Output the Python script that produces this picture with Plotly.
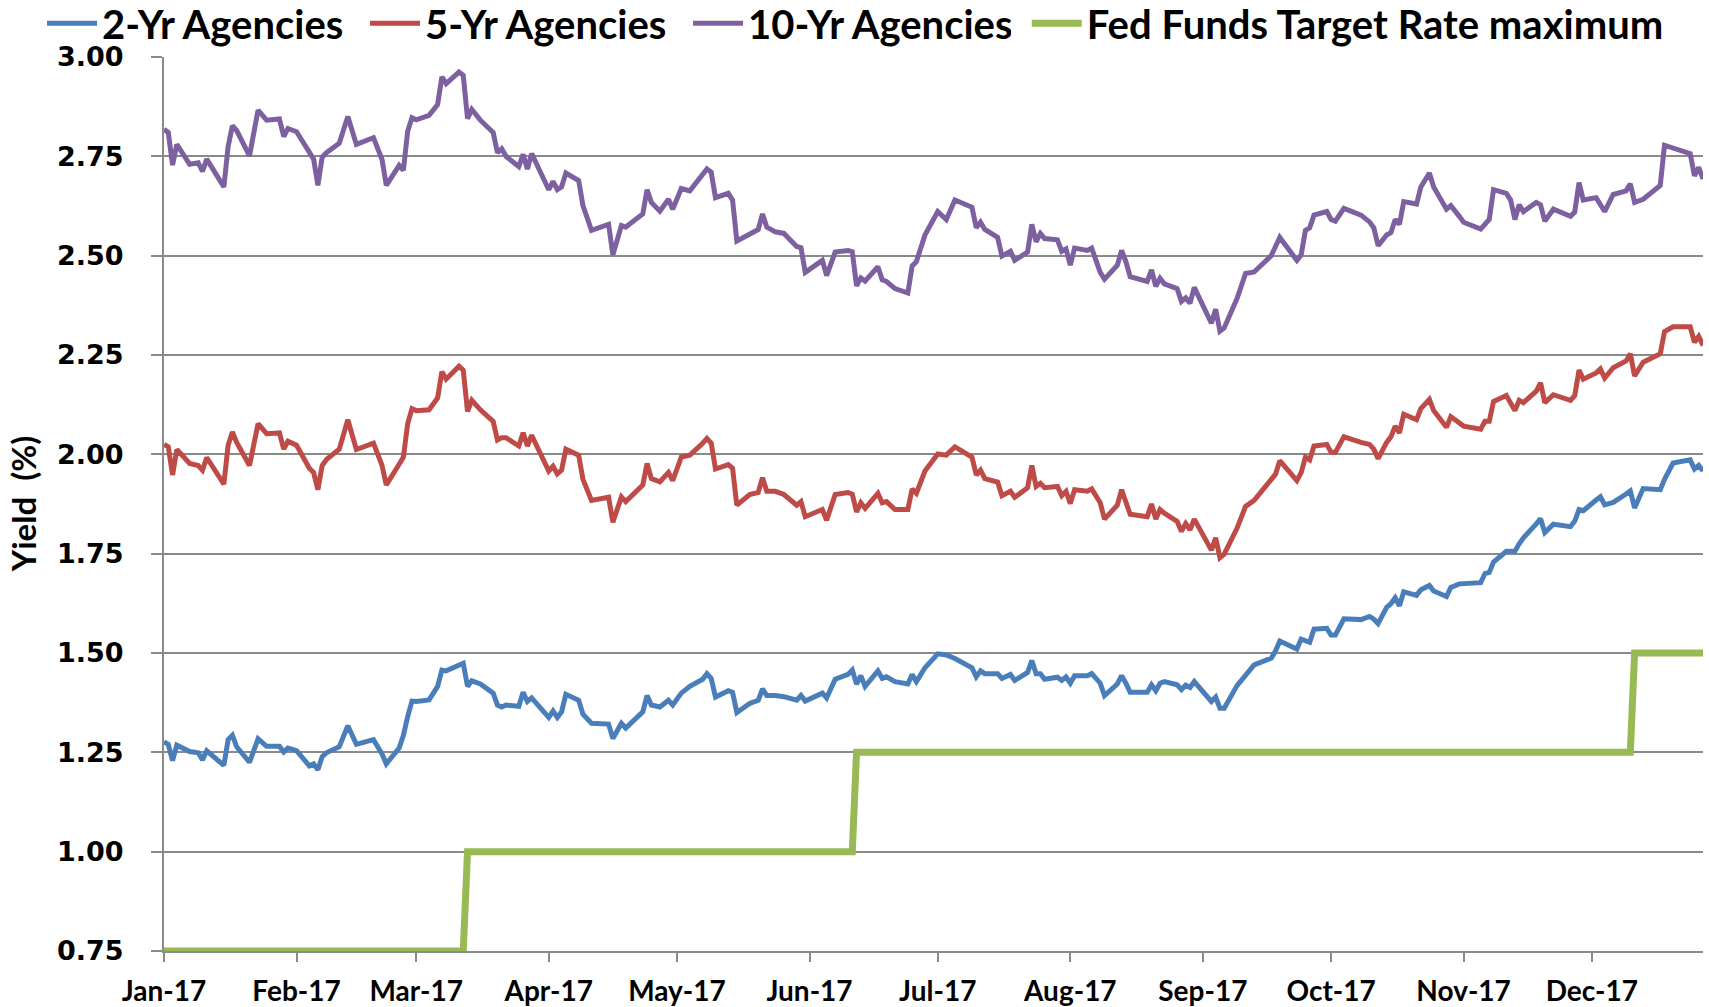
import plotly.graph_objects as go

dates = [
    "2017-01-03","2017-01-04","2017-01-05","2017-01-06","2017-01-09","2017-01-11","2017-01-12","2017-01-13",
    "2017-01-17","2017-01-18","2017-01-19","2017-01-20","2017-01-23","2017-01-25","2017-01-27","2017-01-30",
    "2017-01-31","2017-02-01","2017-02-03","2017-02-06","2017-02-07","2017-02-08","2017-02-09","2017-02-10",
    "2017-02-13","2017-02-15","2017-02-17","2017-02-21","2017-02-23","2017-02-24","2017-02-27","2017-02-28",
    "2017-03-01","2017-03-02","2017-03-03","2017-03-06","2017-03-08","2017-03-09","2017-03-10","2017-03-13",
    "2017-03-14","2017-03-15","2017-03-16","2017-03-18","2017-03-21","2017-03-22","2017-03-23","2017-03-24",
    "2017-03-27","2017-03-28","2017-03-29","2017-03-30","2017-04-03","2017-04-04","2017-04-05","2017-04-06",
    "2017-04-07","2017-04-10","2017-04-11","2017-04-13","2017-04-17","2017-04-18","2017-04-20","2017-04-21",
    "2017-04-25","2017-04-26","2017-04-27","2017-04-29","2017-05-01","2017-05-02","2017-05-04","2017-05-06",
    "2017-05-09","2017-05-10","2017-05-11","2017-05-12","2017-05-15","2017-05-16","2017-05-17","2017-05-20",
    "2017-05-22","2017-05-23","2017-05-24","2017-05-26","2017-05-28","2017-05-31","2017-06-01","2017-06-02",
    "2017-06-06","2017-06-07","2017-06-08","2017-06-09","2017-06-12","2017-06-13","2017-06-14","2017-06-15",
    "2017-06-16","2017-06-19","2017-06-20","2017-06-21","2017-06-23","2017-06-26","2017-06-27","2017-06-28",
    "2017-06-30","2017-07-03","2017-07-05","2017-07-07","2017-07-11","2017-07-12","2017-07-13","2017-07-14",
    "2017-07-17","2017-07-18","2017-07-20","2017-07-21","2017-07-24","2017-07-25","2017-07-26","2017-07-27",
    "2017-07-28","2017-07-31","2017-08-01","2017-08-02","2017-08-03","2017-08-04","2017-08-07","2017-08-08",
    "2017-08-10","2017-08-11","2017-08-14","2017-08-15","2017-08-16","2017-08-17","2017-08-21","2017-08-22",
    "2017-08-23","2017-08-24","2017-08-25","2017-08-28","2017-08-29","2017-08-30","2017-08-31","2017-09-01",
    "2017-09-05","2017-09-06","2017-09-07","2017-09-08","2017-09-11","2017-09-13","2017-09-15","2017-09-19",
    "2017-09-20","2017-09-21","2017-09-25","2017-09-26","2017-09-27","2017-09-28","2017-09-29","2017-10-02",
    "2017-10-03","2017-10-04","2017-10-06","2017-10-10","2017-10-12","2017-10-13","2017-10-14","2017-10-16",
    "2017-10-17","2017-10-18","2017-10-19","2017-10-20","2017-10-23","2017-10-24","2017-10-26","2017-10-27",
    "2017-10-30","2017-10-31","2017-11-02","2017-11-03","2017-11-07","2017-11-08","2017-11-09","2017-11-10",
    "2017-11-13","2017-11-14","2017-11-15","2017-11-16","2017-11-17","2017-11-20","2017-11-21","2017-11-22",
    "2017-11-24","2017-11-28","2017-11-29","2017-11-30","2017-12-01","2017-12-04","2017-12-05","2017-12-06",
    "2017-12-08","2017-12-11","2017-12-12","2017-12-13","2017-12-15","2017-12-19","2017-12-20","2017-12-22",
    "2017-12-26","2017-12-27","2017-12-28","2017-12-29",
]

yr10 = [
    2.818,2.81,2.728,2.78,2.73,2.734,2.712,2.743,
    2.673,2.775,2.827,2.815,2.751,2.866,2.841,2.844,
    2.80,2.82,2.812,2.763,2.743,2.677,2.748,2.759,
    2.783,2.85,2.78,2.797,2.742,2.677,2.727,2.715,
    2.813,2.847,2.842,2.853,2.88,2.95,2.933,2.962,
    2.954,2.845,2.868,2.841,2.81,2.759,2.769,2.75,
    2.724,2.755,2.718,2.757,2.666,2.687,2.666,2.673,
    2.708,2.689,2.626,2.564,2.579,2.502,2.576,2.572,
    2.605,2.666,2.634,2.612,2.642,2.617,2.669,2.663,
    2.701,2.718,2.71,2.646,2.657,2.64,2.537,2.556,
    2.566,2.605,2.572,2.56,2.556,2.523,2.52,2.458,
    2.488,2.45,2.482,2.509,2.513,2.51,2.424,2.444,
    2.436,2.472,2.439,2.435,2.417,2.406,2.474,2.485,
    2.552,2.611,2.591,2.64,2.622,2.57,2.584,2.566,
    2.546,2.499,2.511,2.488,2.509,2.579,2.535,2.556,
    2.543,2.54,2.511,2.517,2.476,2.519,2.513,2.519,
    2.458,2.441,2.476,2.513,2.485,2.447,2.435,2.464,
    2.423,2.443,2.429,2.417,2.385,2.394,2.38,2.42,
    2.33,2.365,2.31,2.318,2.392,2.455,2.459,2.50,
    2.523,2.546,2.488,2.502,2.564,2.57,2.602,2.611,
    2.591,2.587,2.619,2.602,2.585,2.57,2.525,2.552,
    2.558,2.591,2.579,2.636,2.63,2.673,2.708,2.673,
    2.617,2.626,2.599,2.584,2.567,2.579,2.591,2.666,
    2.657,2.64,2.591,2.628,2.611,2.634,2.628,2.587,
    2.617,2.599,2.61,2.684,2.64,2.646,2.63,2.611,
    2.654,2.663,2.681,2.634,2.642,2.677,2.778,2.77,
    2.757,2.701,2.722,2.693,
]

yr5 = [
    2.025,2.019,1.948,2.012,1.977,1.972,1.96,1.992,
    1.925,2.023,2.056,2.03,1.972,2.077,2.052,2.054,
    2.013,2.033,2.023,1.965,1.954,1.911,1.972,1.987,
    2.013,2.087,2.012,2.028,1.972,1.923,1.975,1.993,
    2.077,2.115,2.11,2.112,2.142,2.208,2.189,2.222,
    2.212,2.108,2.136,2.112,2.083,2.036,2.042,2.042,
    2.021,2.054,2.021,2.048,1.958,1.97,1.951,1.96,
    2.013,1.998,1.937,1.884,1.892,1.829,1.893,1.881,
    1.923,1.977,1.939,1.931,1.954,1.934,1.993,1.998,
    2.028,2.04,2.028,1.963,1.974,1.965,1.872,1.899,
    1.904,1.941,1.907,1.907,1.899,1.872,1.881,1.843,
    1.861,1.834,1.867,1.899,1.904,1.90,1.855,1.878,
    1.864,1.902,1.878,1.881,1.861,1.861,1.913,1.902,
    1.958,2.001,1.998,2.019,1.993,1.948,1.96,1.939,
    1.93,1.896,1.907,1.892,1.916,1.972,1.919,1.927,
    1.916,1.919,1.896,1.907,1.876,1.911,1.907,1.913,
    1.878,1.837,1.872,1.911,1.88,1.849,1.843,1.875,
    1.837,1.861,1.852,1.831,1.806,1.826,1.81,1.837,
    1.759,1.79,1.74,1.749,1.814,1.869,1.884,1.933,
    1.95,1.984,1.934,1.954,1.993,1.986,2.021,2.025,
    2.005,2.005,2.044,2.03,2.025,2.013,1.989,2.03,
    2.044,2.071,2.054,2.101,2.087,2.115,2.138,2.11,
    2.068,2.095,2.08,2.071,2.063,2.083,2.083,2.133,
    2.148,2.13,2.11,2.136,2.13,2.159,2.18,2.13,
    2.15,2.136,2.148,2.212,2.189,2.205,2.215,2.192,
    2.218,2.235,2.253,2.197,2.232,2.253,2.309,2.321,
    2.321,2.282,2.297,2.274,
]

yr2 = [
    1.276,1.27,1.229,1.268,1.252,1.249,1.231,1.254,
    1.217,1.282,1.293,1.264,1.225,1.284,1.265,1.265,
    1.251,1.261,1.254,1.216,1.221,1.206,1.239,1.249,
    1.264,1.317,1.27,1.282,1.246,1.221,1.261,1.293,
    1.34,1.379,1.378,1.382,1.416,1.457,1.455,1.471,
    1.474,1.416,1.43,1.422,1.399,1.369,1.364,1.369,
    1.366,1.401,1.378,1.387,1.338,1.354,1.338,1.352,
    1.396,1.381,1.346,1.323,1.321,1.285,1.323,1.311,
    1.352,1.393,1.369,1.364,1.381,1.369,1.399,1.416,
    1.434,1.448,1.436,1.389,1.405,1.401,1.35,1.373,
    1.381,1.41,1.393,1.393,1.39,1.381,1.393,1.379,
    1.399,1.387,1.408,1.434,1.446,1.457,1.422,1.443,
    1.416,1.455,1.436,1.44,1.428,1.422,1.446,1.428,
    1.463,1.498,1.495,1.486,1.463,1.44,1.455,1.448,
    1.448,1.436,1.446,1.431,1.451,1.481,1.448,1.448,
    1.434,1.439,1.431,1.44,1.424,1.443,1.443,1.448,
    1.424,1.393,1.422,1.443,1.424,1.401,1.401,1.42,
    1.405,1.424,1.428,1.42,1.408,1.419,1.413,1.428,
    1.378,1.389,1.361,1.361,1.418,1.445,1.47,1.487,
    1.505,1.53,1.51,1.535,1.53,1.527,1.56,1.562,
    1.545,1.545,1.586,1.584,1.592,1.585,1.574,1.615,
    1.624,1.639,1.619,1.654,1.645,1.659,1.67,1.656,
    1.642,1.665,1.674,1.675,1.677,1.70,1.703,1.729,
    1.756,1.756,1.756,1.775,1.79,1.825,1.838,1.803,
    1.824,1.818,1.832,1.861,1.858,1.885,1.893,1.873,
    1.879,1.90,1.908,1.865,1.914,1.911,1.937,1.978,
    1.986,1.963,1.972,1.958,
]

fed_dates = ["2017-01-03","2017-03-14","2017-03-15","2017-06-13","2017-06-14",
             "2017-12-12","2017-12-13","2017-12-29"]
fed_max = [0.75, 0.75, 1.00, 1.00, 1.25, 1.25, 1.50, 1.50]

tick_dates = ["2017-01-03","2017-02-03","2017-03-03","2017-04-03","2017-05-03","2017-06-03",
              "2017-07-03","2017-08-03","2017-09-03","2017-10-03","2017-11-03","2017-12-03"]
tick_labels = ["Jan-17","Feb-17","Mar-17","Apr-17","May-17","Jun-17",
               "Jul-17","Aug-17","Sep-17","Oct-17","Nov-17","Dec-17"]
y_ticks = [0.75, 1.00, 1.25, 1.50, 1.75, 2.00, 2.25, 2.50, 2.75, 3.00]

series_names = ["2-Yr Agencies", "5-Yr Agencies", "10-Yr Agencies", "Fed Funds Target Rate maximum"]
colors = ["#4A7EBB", "#BE4B48", "#7D60A0", "#98B954"]

fig = go.Figure()
fig.add_trace(go.Scatter(x=dates, y=yr2, mode="lines", name=series_names[0],
                         line=dict(color=colors[0], width=5), legend="legend"))
fig.add_trace(go.Scatter(x=dates, y=yr5, mode="lines", name=series_names[1],
                         line=dict(color=colors[1], width=5), legend="legend"))
fig.add_trace(go.Scatter(x=dates, y=yr10, mode="lines", name=series_names[2],
                         line=dict(color=colors[2], width=5), legend="legend"))
fig.add_trace(go.Scatter(x=fed_dates, y=fed_max, mode="lines", name=series_names[3],
                         line=dict(color=colors[3], width=7), legend="legend2"))

grid = "#8a8a8a"
legend_font = dict(family="Lato", size=40, color="black", weight="bold")
fig.update_layout(
    width=1709, height=1007,
    margin=dict(l=164, r=6, t=57, b=56, autoexpand=False),
    paper_bgcolor="white", plot_bgcolor="white",
    showlegend=True,
    legend=dict(orientation="h", xref="container", yref="container",
                x=0.0246, y=0.9768, xanchor="left", yanchor="middle",
                font=legend_font, itemwidth=50,
                entrywidth=258, entrywidthmode="pixels",
                bgcolor="rgba(0,0,0,0)"),
    legend2=dict(orientation="h", xref="container", yref="container",
                 x=0.6008, y=0.9768, xanchor="left", yanchor="middle",
                 font=legend_font, itemwidth=50,
                 bgcolor="rgba(0,0,0,0)"),
    xaxis=dict(type="date", range=["2017-01-03", "2017-12-29"],
               tickvals=tick_dates, ticktext=tick_labels,
               ticks="outside", ticklen=9, tickwidth=1.5, tickcolor=grid,
               showline=True, linecolor=grid, linewidth=2,
               showgrid=False, zeroline=False, layer="below traces",
               automargin=False, ticklabelstandoff=5,
               tickfont=dict(family="Lato", size=28, color="black", weight="bold")),
    yaxis=dict(range=[0.75, 3.0], tickvals=y_ticks,
               ticktext=[f"{v:.2f}" for v in y_ticks],
               ticks="outside", ticklen=11, tickwidth=1.5, tickcolor=grid,
               showline=True, linecolor=grid, linewidth=2,
               showgrid=True, gridcolor=grid, gridwidth=1.5,
               zeroline=False, layer="below traces", automargin=False,
               ticklabelstandoff=22,
               tickfont=dict(family="DejaVu Sans", size=27, color="black", weight="bold")),
    annotations=[dict(text="Yield\u00a0\u00a0(%)", xref="paper", yref="paper",
                      x=-0.0915, y=0.5, textangle=-90, showarrow=False,
                      xanchor="center", yanchor="middle",
                      font=dict(family="Lato", size=33, color="black", weight="bold"))],
)

fig.write_html("out.html", config={"displayModeBar": False},
               post_script="document.body.style.margin='0';document.body.style.overflow='hidden';")
